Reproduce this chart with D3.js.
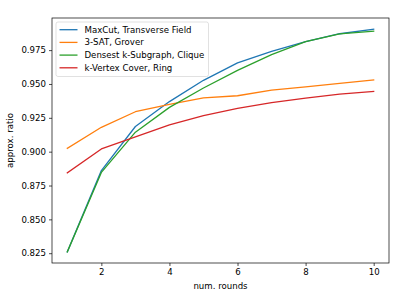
<!DOCTYPE html>
<html><head><meta charset="utf-8">
<script src="https://cdn.jsdelivr.net/npm/d3@7"></script>
<style>body{margin:0;background:#fff}svg{display:block}text{font-family:"DejaVu Sans",sans-serif;fill:#000}</style>
</head><body><svg id="c" width="399" height="299"></svg>
<script>
const rounds = [1,2,3,4,5,6,7,8,9,10];
const seriesNames = ["MaxCut, Transverse Field","3-SAT, Grover","Densest k-Subgraph, Clique","k-Vertex Cover, Ring"];
const maxcut = [0.826,0.886,0.9186,0.937,0.9527,0.9656,0.974,0.9812,0.9871,0.9905];
const sat3 = [0.9025,0.918,0.9295,0.935,0.9398,0.9413,0.9455,0.9478,0.9505,0.953];
const densest = [0.826,0.8847,0.9144,0.9327,0.947,0.960,0.9717,0.9812,0.987,0.989];
const vertex = [0.8844,0.902,0.911,0.9198,0.9267,0.9319,0.9362,0.9395,0.9425,0.9445];
const colors = ["#1f77b4","#ff7f0e","#2ca02c","#d62728"];
const xTicks = [2,4,6,8,10];
const yTicks = [0.825,0.850,0.875,0.900,0.925,0.950,0.975];

const L=52,R=389,T=18,B=263, FS=8.6;
const svg=d3.select("#c");
const all=[maxcut,sat3,densest,vertex];
const ymin=d3.min(all.flat()), ymax=d3.max(all.flat()), yr=ymax-ymin;
const x=d3.scaleLinear().domain([1-0.45,10+0.45]).range([L,R]);
const y=d3.scaleLinear().domain([ymin-0.05*yr,ymax+0.05*yr]).range([B,T]);

const line=d3.line().x((d,i)=>x(rounds[i])).y(d=>y(d));
all.forEach((s,k)=>{
  svg.append("path").datum(s).attr("d",line).attr("fill","none")
    .attr("stroke",colors[k]).attr("stroke-width",1.3).attr("stroke-linejoin","round").attr("stroke-linecap","square");
});

const xa=svg.append("g").attr("transform",`translate(0,${B})`)
  .call(d3.axisBottom(x).tickValues(xTicks).tickFormat(d3.format("d")).tickSize(3).tickPadding(3));
const ya=svg.append("g").attr("transform",`translate(${L},0)`)
  .call(d3.axisLeft(y).tickValues(yTicks).tickFormat(d3.format(".3f")).tickSize(3).tickPadding(3));
[xa,ya].forEach(a=>{a.select(".domain").remove();a.selectAll("line").attr("stroke","#000").attr("stroke-width",0.7);
  a.selectAll("text").attr("font-size",FS).attr("font-family","DejaVu Sans");});

svg.append("rect").attr("x",L).attr("y",T).attr("width",R-L).attr("height",B-T)
  .attr("fill","none").attr("stroke","#000").attr("stroke-width",0.7);

svg.append("text").attr("x",(L+R)/2).attr("y",289).attr("text-anchor","middle").attr("font-size",FS).text("num. rounds");
svg.append("text").attr("transform",`translate(12.5,${(T+B)/2}) rotate(-90)`).attr("text-anchor","middle").attr("font-size",FS).text("approx. ratio");

const lg=svg.append("g");
lg.append("rect").attr("x",56).attr("y",22).attr("width",152.5).attr("height",54.5).attr("rx",2)
  .attr("fill","#fff").attr("fill-opacity",0.8).attr("stroke","#ccc").attr("stroke-width",0.6);
seriesNames.forEach((n,k)=>{
  const yy=29.7+k*12.7;
  lg.append("line").attr("x1",59.5).attr("x2",77.5).attr("y1",yy).attr("y2",yy).attr("stroke",colors[k]).attr("stroke-width",1.3);
  lg.append("text").attr("x",84.5).attr("y",yy).attr("dy","0.35em").attr("font-size",FS).text(n);
});
</script></body></html>
